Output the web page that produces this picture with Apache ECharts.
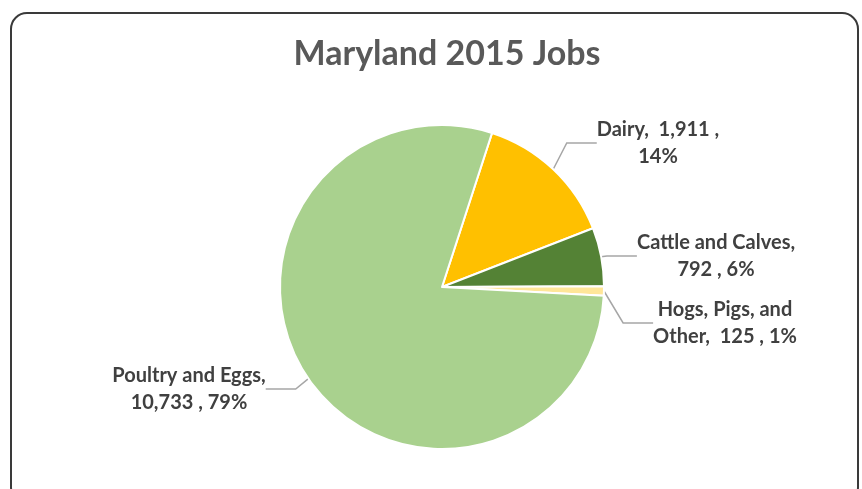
<!DOCTYPE html>
<html>
<head>
    <meta charset="utf-8">
    <title>Maryland 2015 Jobs</title>
    <style>
        html, body { margin: 0; padding: 0; background: #fff; }
    </style>
</head>
<body>
    <div id="main" style="width: 862px;height:489px;"></div>
    <script src="https://cdn.jsdelivr.net/npm/echarts@6/dist/echarts.min.js"></script>
    <script type="text/javascript">
        var categories = ['Dairy', 'Cattle and Calves', 'Hogs, Pigs, and Other', 'Poultry and Eggs'];
        var jobs = [1911, 792, 125, 10733];
        var colors = ['#FFC000', '#548235', '#FFE699', '#A9D18E'];
        // where each label's centre sits
        var labelPos = [[658, 143], [716, 256], [725, 323], [189, 389]];

        var myChart = echarts.init(document.getElementById('main'));

        function fmt(n) {
            return n.toLocaleString('en-US');
        }

        var option = {
            backgroundColor: '#fff',
            title: {
                text: 'Maryland 2015 Jobs',
                left: 442,
                top: 32,
                textAlign: 'center',
                textStyle: {
                    fontFamily: 'Lato',
                    fontSize: 34,
                    fontWeight: 'bold',
                    color: '#595959'
                }
            },
            graphic: [{
                type: 'rect',
                shape: { x: 11, y: 13, width: 847, height: 490, r: 16 },
                style: { fill: 'none', stroke: '#3a3a3a', lineWidth: 2 },
                silent: true
            }],
            series: [{
                type: 'pie',
                center: [442, 287],
                radius: 162,
                startAngle: 72,
                clockwise: true,
                animation: false,
                percentPrecision: 0,
                itemStyle: { borderColor: '#fff', borderWidth: 2 },
                label: {
                    show: true,
                    fontFamily: 'Lato',
                    fontSize: 20,
                    fontWeight: 'bold',
                    color: '#404040',
                    lineHeight: 27,
                    align: 'center',
                    formatter: function (p) {
                        var v = fmt(p.value), pc = p.percent + '%';
                        switch (p.dataIndex) {
                            case 0: return p.name + ',  ' + v + ' ,\n' + pc;
                            case 2: return 'Hogs, Pigs, and\nOther,  ' + v + ' , ' + pc;
                            default: return p.name + ',\n' + v + ' , ' + pc;
                        }
                    }
                },
                labelLine: {
                    show: true,
                    lineStyle: { color: '#a6a6a6', width: 1.5 }
                },
                labelLayout: function (params) {
                    var pos = labelPos[params.dataIndex];
                    return {
                        x: pos[0],
                        y: pos[1],
                        align: 'center',
                        verticalAlign: 'middle'
                    };
                },
                data: categories.map(function (c, i) {
                    return { name: c, value: jobs[i], itemStyle: { color: colors[i] } };
                })
            }]
        };
        myChart.setOption(option);
    </script>
</body>
</html>
